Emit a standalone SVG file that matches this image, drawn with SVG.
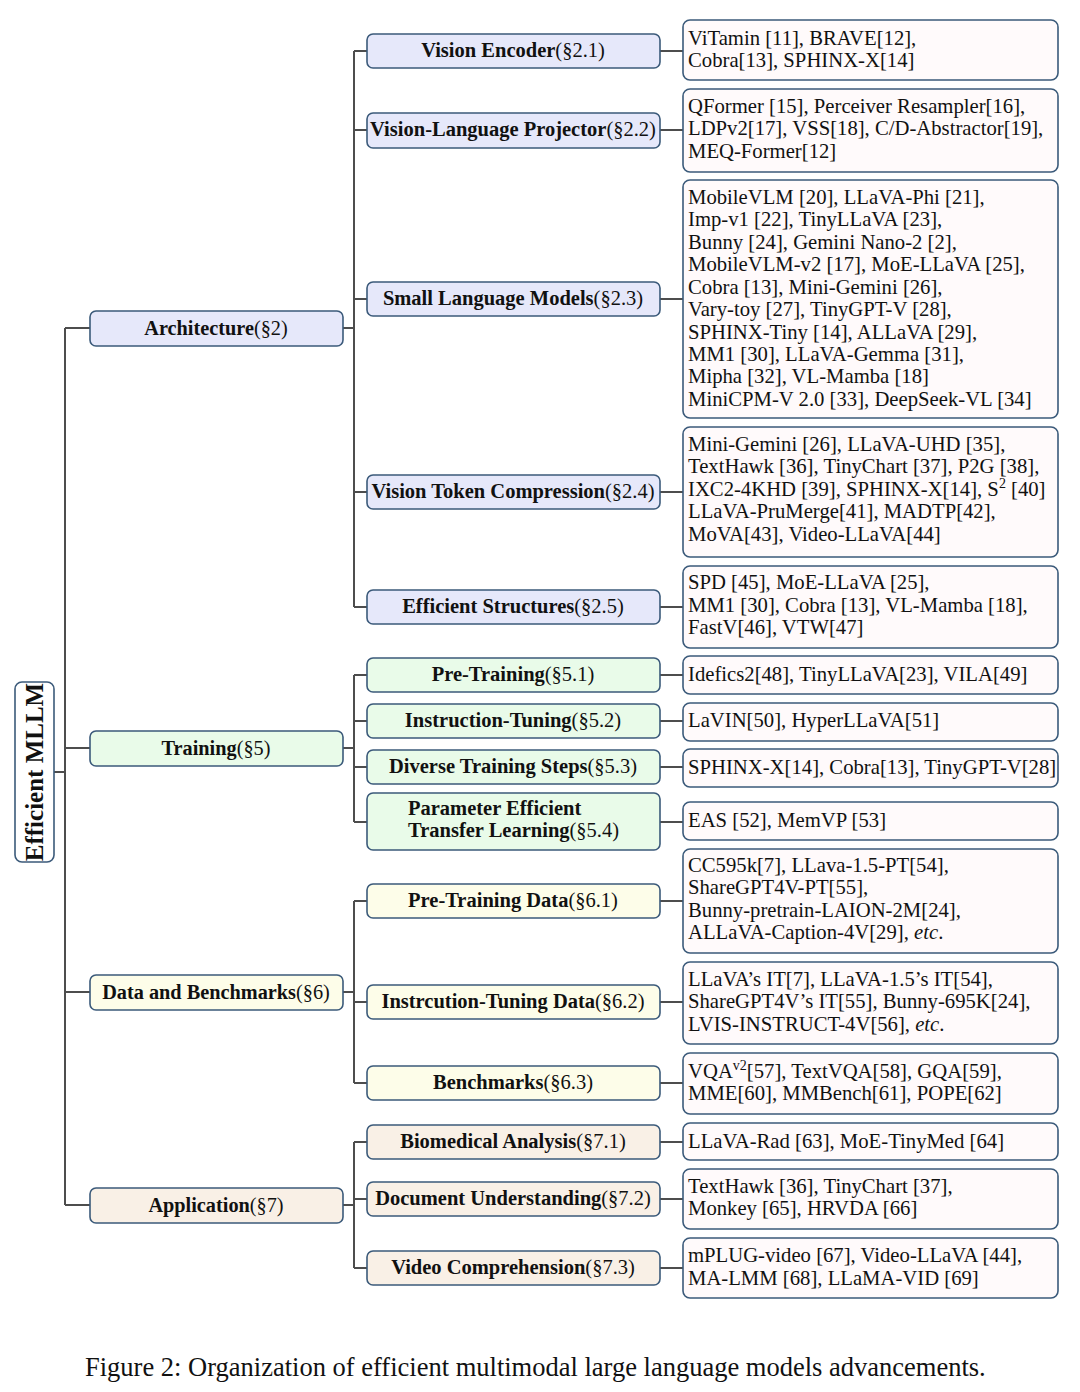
<svg xmlns="http://www.w3.org/2000/svg" width="1080" height="1392" viewBox="0 0 1080 1392">
<style>
text{font-family:"Liberation Serif","Times New Roman",serif;fill:#111}
.b{font-weight:bold}
.box{stroke:#3b5a7a;stroke-width:1.6}
.arch{fill:#e6e8fa}
.train{fill:#e9fbe9}
.data{fill:#fdfde9}
.app{fill:#f9f0e6}
.leaf{fill:#fffafb}
.root{fill:#ffffff}
.l2{font-size:20.5px;text-anchor:middle}
.l1{font-size:20.3px;text-anchor:middle}
.lt{font-size:20.7px}
.conn{stroke:#4d4d4d;stroke-width:2;fill:none}
</style>
<g id="connectors">
<path class="conn" d="M54 772H65M65 328V1205M65 328H90M65 748H90M65 992H90M65 1205H90"/>
<path class="conn" d="M343 328H354M354 51V607M354 51H367M354 130H367M354 299H367M354 492H367M354 607H367"/>
<path class="conn" d="M343 748H354M354 675V822M354 675H367M354 721H367M354 767H367M354 822H367"/>
<path class="conn" d="M343 992H354M354 901V1083M354 901H367M354 1002H367M354 1083H367"/>
<path class="conn" d="M343 1205H354M354 1142V1268M354 1142H367M354 1199H367M354 1268H367"/>
<path class="conn" d="M660 51H683M660 130H683M660 299H683M660 492H683M660 607H683M660 675H683M660 721H683M660 767H683M660 822H683M660 901H683M660 1002H683M660 1083H683M660 1142H683M660 1199H683M660 1268H683"/>
</g>
<g id="root">
<rect class="box root" x="15" y="682" width="39" height="180" rx="7"/>
<text class="b" font-size="25" text-anchor="middle" transform="translate(43 772) rotate(-90)">Efficient MLLM</text>
</g>
<g id="n-architecture">
<rect class="box arch" x="90" y="311" width="253" height="35" rx="6"/>
<text class="l1" x="216" y="335"><tspan class="b">Architecture</tspan>(§2)</text>
</g>
<g id="n-training">
<rect class="box train" x="90" y="731" width="253" height="35" rx="6"/>
<text class="l1" x="216" y="755"><tspan class="b">Training</tspan>(§5)</text>
</g>
<g id="n-data">
<rect class="box data" x="90" y="975" width="253" height="35" rx="6"/>
<text class="l1" x="216" y="999"><tspan class="b">Data and Benchmarks</tspan>(§6)</text>
</g>
<g id="n-application">
<rect class="box app" x="90" y="1188" width="253" height="35" rx="6"/>
<text class="l1" x="216" y="1212"><tspan class="b">Application</tspan>(§7)</text>
</g>
<g id="n-vision-encoder">
<rect class="box arch" x="367" y="34" width="293" height="34" rx="6"/>
<text class="l2" x="513" y="57"><tspan class="b">Vision Encoder</tspan>(§2.1)</text>
</g>
<g id="n-vl-projector">
<rect class="box arch" x="367" y="113" width="293" height="35" rx="6"/>
<text class="l2" x="513" y="136"><tspan class="b">Vision-Language Projector</tspan>(§2.2)</text>
</g>
<g id="n-slm">
<rect class="box arch" x="367" y="282" width="293" height="34" rx="6"/>
<text class="l2" x="513" y="305"><tspan class="b">Small Language Models</tspan>(§2.3)</text>
</g>
<g id="n-vtc">
<rect class="box arch" x="367" y="475" width="293" height="34" rx="6"/>
<text class="l2" x="513" y="498"><tspan class="b">Vision Token Compression</tspan>(§2.4)</text>
</g>
<g id="n-es">
<rect class="box arch" x="367" y="590" width="293" height="34" rx="6"/>
<text class="l2" x="513" y="613"><tspan class="b">Efficient Structures</tspan>(§2.5)</text>
</g>
<g id="n-pretraining">
<rect class="box train" x="367" y="658" width="293" height="34" rx="6"/>
<text class="l2" x="513" y="681"><tspan class="b">Pre-Training</tspan>(§5.1)</text>
</g>
<g id="n-instruction">
<rect class="box train" x="367" y="704" width="293" height="34" rx="6"/>
<text class="l2" x="513" y="727"><tspan class="b">Instruction-Tuning</tspan>(§5.2)</text>
</g>
<g id="n-diverse">
<rect class="box train" x="367" y="750" width="293" height="34" rx="6"/>
<text class="l2" x="513" y="773"><tspan class="b">Diverse Training Steps</tspan>(§5.3)</text>
</g>
<g id="n-petl">
<rect class="box train" x="367" y="793" width="293" height="57" rx="6"/>
<text font-size="20.5" x="408" y="815"><tspan class="b">Parameter Efficient</tspan></text>
<text font-size="20.5" x="408" y="837"><tspan class="b">Transfer Learning</tspan>(§5.4)</text>
</g>
<g id="n-ptdata">
<rect class="box data" x="367" y="884" width="293" height="34" rx="6"/>
<text class="l2" x="513" y="907"><tspan class="b">Pre-Training Data</tspan>(§6.1)</text>
</g>
<g id="n-itdata">
<rect class="box data" x="367" y="985" width="293" height="34" rx="6"/>
<text class="l2" x="513" y="1008"><tspan class="b">Instrcution-Tuning Data</tspan>(§6.2)</text>
</g>
<g id="n-bench">
<rect class="box data" x="367" y="1066" width="293" height="34" rx="6"/>
<text class="l2" x="513" y="1089"><tspan class="b">Benchmarks</tspan>(§6.3)</text>
</g>
<g id="n-bio">
<rect class="box app" x="367" y="1125" width="293" height="34" rx="6"/>
<text class="l2" x="513" y="1148"><tspan class="b">Biomedical Analysis</tspan>(§7.1)</text>
</g>
<g id="n-doc">
<rect class="box app" x="367" y="1182" width="293" height="34" rx="6"/>
<text class="l2" x="513" y="1205"><tspan class="b">Document Understanding</tspan>(§7.2)</text>
</g>
<g id="n-video">
<rect class="box app" x="367" y="1251" width="293" height="34" rx="6"/>
<text class="l2" x="513" y="1274"><tspan class="b">Video Comprehension</tspan>(§7.3)</text>
</g>
<g id="leaf-1">
<rect class="box leaf" x="683" y="20" width="375" height="60" rx="7"/>
<text class="lt" x="688" y="45">ViTamin [11], BRAVE[12],</text>
<text class="lt" x="688" y="67">Cobra[13], SPHINX-X[14]</text>
</g>
<g id="leaf-2">
<rect class="box leaf" x="683" y="89" width="375" height="83" rx="7"/>
<text class="lt" x="688" y="113">QFormer [15], Perceiver Resampler[16],</text>
<text class="lt" x="688" y="135">LDPv2[17], VSS[18], C/D-Abstractor[19],</text>
<text class="lt" x="688" y="158">MEQ-Former[12]</text>
</g>
<g id="leaf-3">
<rect class="box leaf" x="683" y="180" width="375" height="238" rx="7"/>
<text class="lt" x="688" y="204">MobileVLM [20], LLaVA-Phi [21],</text>
<text class="lt" x="688" y="226">Imp-v1 [22], TinyLLaVA [23],</text>
<text class="lt" x="688" y="249">Bunny [24], Gemini Nano-2 [2],</text>
<text class="lt" x="688" y="271">MobileVLM-v2 [17], MoE-LLaVA [25],</text>
<text class="lt" x="688" y="294">Cobra [13], Mini-Gemini [26],</text>
<text class="lt" x="688" y="316">Vary-toy [27], TinyGPT-V [28],</text>
<text class="lt" x="688" y="339">SPHINX-Tiny [14], ALLaVA [29],</text>
<text class="lt" x="688" y="361">MM1 [30], LLaVA-Gemma [31],</text>
<text class="lt" x="688" y="383">Mipha [32], VL-Mamba [18]</text>
<text class="lt" x="688" y="406">MiniCPM-V 2.0 [33], DeepSeek-VL [34]</text>
</g>
<g id="leaf-4">
<rect class="box leaf" x="683" y="427" width="375" height="130" rx="7"/>
<text class="lt" x="688" y="451">Mini-Gemini [26], LLaVA-UHD [35],</text>
<text class="lt" x="688" y="473">TextHawk [36], TinyChart [37], P2G [38],</text>
<text class="lt" x="688" y="496">IXC2-4KHD [39], SPHINX-X[14], S<tspan font-size="14" dy="-8">2</tspan><tspan dy="8"> [40]</tspan></text>
<text class="lt" x="688" y="518">LLaVA-PruMerge[41], MADTP[42],</text>
<text class="lt" x="688" y="541">MoVA[43], Video-LLaVA[44]</text>
</g>
<g id="leaf-5">
<rect class="box leaf" x="683" y="566" width="375" height="82" rx="7"/>
<text class="lt" x="688" y="589">SPD [45], MoE-LLaVA [25],</text>
<text class="lt" x="688" y="612">MM1 [30], Cobra [13], VL-Mamba [18],</text>
<text class="lt" x="688" y="634">FastV[46], VTW[47]</text>
</g>
<g id="leaf-6">
<rect class="box leaf" x="683" y="656" width="375" height="38" rx="7"/>
<text class="lt" x="688" y="681">Idefics2[48], TinyLLaVA[23], VILA[49]</text>
</g>
<g id="leaf-7">
<rect class="box leaf" x="683" y="703" width="375" height="38" rx="7"/>
<text class="lt" x="688" y="727">LaVIN[50], HyperLLaVA[51]</text>
</g>
<g id="leaf-8">
<rect class="box leaf" x="683" y="749" width="375" height="38" rx="7"/>
<text class="lt" x="688" y="774">SPHINX-X[14], Cobra[13], TinyGPT-V[28]</text>
</g>
<g id="leaf-9">
<rect class="box leaf" x="683" y="802" width="375" height="38" rx="7"/>
<text class="lt" x="688" y="827">EAS [52], MemVP [53]</text>
</g>
<g id="leaf-10">
<rect class="box leaf" x="683" y="849" width="375" height="104" rx="7"/>
<text class="lt" x="688" y="872">CC595k[7], LLava-1.5-PT[54],</text>
<text class="lt" x="688" y="894">ShareGPT4V-PT[55],</text>
<text class="lt" x="688" y="917">Bunny-pretrain-LAION-2M[24],</text>
<text class="lt" x="688" y="939">ALLaVA-Caption-4V[29], <tspan font-style="italic">etc</tspan>.</text>
</g>
<g id="leaf-11">
<rect class="box leaf" x="683" y="962" width="375" height="82" rx="7"/>
<text class="lt" x="688" y="986">LLaVA’s IT[7], LLaVA-1.5’s IT[54],</text>
<text class="lt" x="688" y="1008">ShareGPT4V’s IT[55], Bunny-695K[24],</text>
<text class="lt" x="688" y="1031">LVIS-INSTRUCT-4V[56], <tspan font-style="italic">etc</tspan>.</text>
</g>
<g id="leaf-12">
<rect class="box leaf" x="683" y="1053" width="375" height="61" rx="7"/>
<text class="lt" x="688" y="1078">VQA<tspan font-size="14" dy="-8">v2</tspan><tspan dy="8">[57], TextVQA[58], GQA[59],</tspan></text>
<text class="lt" x="688" y="1100">MME[60], MMBench[61], POPE[62]</text>
</g>
<g id="leaf-13">
<rect class="box leaf" x="683" y="1123" width="375" height="37" rx="7"/>
<text class="lt" x="688" y="1148">LLaVA-Rad [63], MoE-TinyMed [64]</text>
</g>
<g id="leaf-14">
<rect class="box leaf" x="683" y="1169" width="375" height="60" rx="7"/>
<text class="lt" x="688" y="1193">TextHawk [36], TinyChart [37],</text>
<text class="lt" x="688" y="1215">Monkey [65], HRVDA [66]</text>
</g>
<g id="leaf-15">
<rect class="box leaf" x="683" y="1238" width="375" height="60" rx="7"/>
<text class="lt" x="688" y="1262">mPLUG-video [67], Video-LLaVA [44],</text>
<text class="lt" x="688" y="1285">MA-LMM [68], LLaMA-VID [69]</text>
</g>
<text x="85" y="1376" font-size="26.5">Figure 2: Organization of efficient multimodal large language models advancements.</text>
</svg>
